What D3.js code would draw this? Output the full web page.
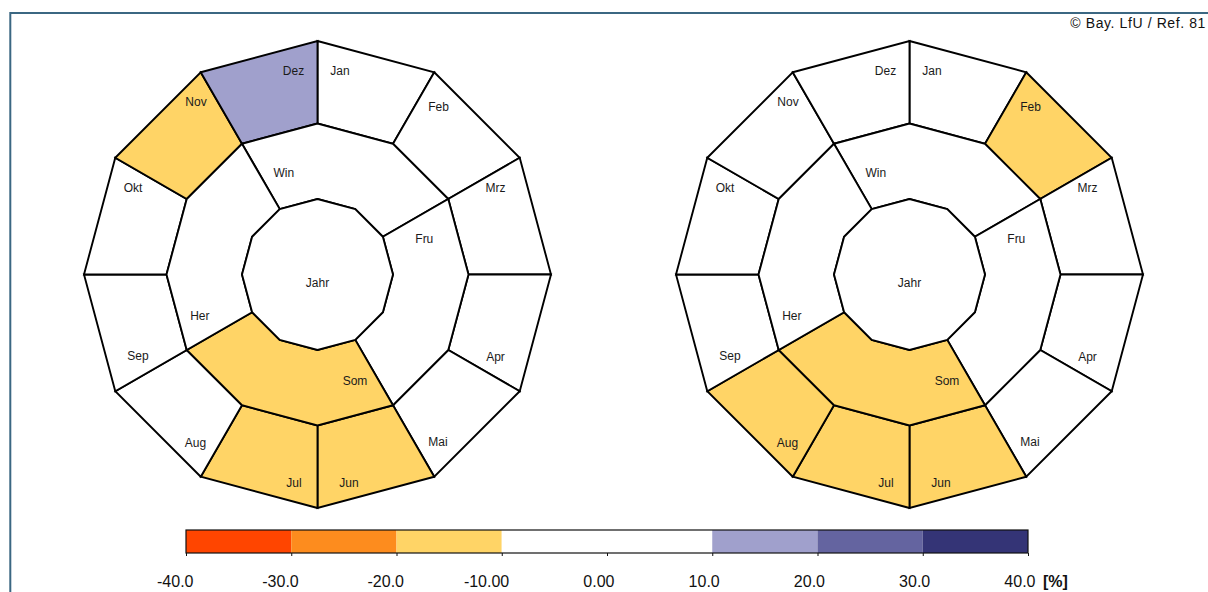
<!DOCTYPE html>
<html>
<head>
<meta charset="utf-8">
<script src="https://cdn.jsdelivr.net/npm/d3@7"></script>
<style>
  html, body { margin: 0; padding: 0; background: #fff; overflow: hidden; }
  svg { display: block; }
  .cell { stroke: #000; stroke-width: 1.9; stroke-linejoin: miter; }
  .lbl { font-family: "Liberation Sans", Arial, sans-serif; font-size: 12px; fill: #1a1a1a; text-anchor: middle; }
  .tick-lbl { font-family: "Liberation Sans", Arial, sans-serif; font-size: 16px; fill: #111; }
</style>
</head>
<body>
<svg id="chart" width="1208" height="592"></svg>
<script>
// Month, season and annual deviations [%] for the two compared periods
const months  = ["Jan", "Feb", "Mrz", "Apr", "Mai", "Jun", "Jul", "Aug", "Sep", "Okt", "Nov", "Dez"];
const seasons = ["Win", "Fru", "Som", "Her"];
const yearLabel = "Jahr";

const monthValuesA  = [3, -4, 2, -6, 5, -14, -12, -7, 4, -2, -15, 13];
const seasonValuesA = [4, 1, -12, -5];
const yearValueA    = -3;

const monthValuesB  = [-5, -13, 3, -2, -8, -15, -17, -14, -6, 2, 6, 8];
const seasonValuesB = [-4, -3, -14, -1];
const yearValueB    = -6;

// colour classes of the legend
const classBreaks  = [-40, -30, -20, -10, 10, 20, 30, 40];
const classColors  = ["#ff4500", "#fd8c1e", "#ffd466", "#ffffff", "#a0a0cc", "#6464a0", "#343476"];
const legendTicks  = [-40, -30, -20, -10, 0, 10, 20, 30, 40];
const legendLabels = ["-40.0", "-30.0", "-20.0", "-10.00", "0.00", "10.0", "20.0", "30.0", "40.0"];
const unitLabel    = "[%]";
const creditText   = "\u00A9 Bay. LfU / Ref. 81";

// first month of each season (Dez counted as month -1)
const seasonFirstMonth = [-1, 2, 5, 8];

const svg = d3.select("#chart");

// frame lines
svg.append("path")
  .attr("d", "M1208,13H10.3V592")
  .attr("fill", "none")
  .attr("stroke", "#3b6782")
  .attr("stroke-width", 2);

svg.append("text")
  .attr("x", 1206).attr("y", 28)
  .attr("text-anchor", "end")
  .attr("font-family", "Liberation Sans, Arial, sans-serif")
  .attr("font-size", 14)
  .attr("letter-spacing", "0.6px")
  .attr("fill", "#111")
  .text(creditText);

const color = d3.scaleThreshold()
  .domain(classBreaks.slice(1, -1))
  .range(classColors);

// angle in month units, clockwise from 12 o'clock
const angle = d3.scaleLinear().domain([0, 12]).range([0, 2 * Math.PI]);
// ring levels: year core, season ring, month ring
const radius = d3.scaleLinear().domain([0, 1, 2, 3]).range([0, 75.5, 151, 233.5]);
const chartX = d3.scalePoint().domain(["A", "B"]).range([317.5, 909.5]);
const centerY = 274.5;

const radial = d3.lineRadial()
  .angle(d => angle(d[0]))
  .radius(d => radius(d[1]))
  .curve(d3.curveLinearClosed);

function ringCell(m0, m1, level) {
  const pts = [];
  for (let m = m0; m <= m1; m++) pts.push([m, level + 1]);
  if (level > 0) for (let m = m1; m >= m0; m--) pts.push([m, level]);
  return radial(pts);
}

// text positions of the cell labels, relative to the wheel centre
const labelOffset = {
  Jan: [22.5, -203.5], Feb: [121, -167.5], Mrz: [178, -86.5], Apr: [178, 82],
  Mai: [120.5, 167.5], Jun: [31.5, 208.5], Jul: [-23.5, 208.5], Aug: [-122, 168],
  Sep: [-179.5, 81], Okt: [-184.5, -86.5], Nov: [-121.5, -172.5], Dez: [-24, -203.5],
  Win: [-33.7, -101.5], Fru: [106.8, -35.5], Som: [37.5, 106.2], Her: [-117.7, 41.5],
  Jahr: [0, 7.8]
};

function drawWheel(key, monthVals, seasonVals, yearVal) {
  const g = svg.append("g")
    .attr("transform", `translate(${chartX(key)},${centerY})`);

  const cells = [];
  months.forEach((m, i) => cells.push({ name: m, value: monthVals[i], d: ringCell(i, i + 1, 2) }));
  seasons.forEach((s, i) => cells.push({ name: s, value: seasonVals[i],
    d: ringCell(seasonFirstMonth[i], seasonFirstMonth[i] + 3, 1) }));
  cells.push({ name: yearLabel, value: yearVal, d: ringCell(0, 12, 0) });

  g.selectAll("path.cell").data(cells).join("path")
    .attr("class", "cell")
    .attr("d", d => d.d)
    .attr("fill", d => color(d.value));

  g.selectAll("text.lbl").data(cells).join("text")
    .attr("class", "lbl")
    .attr("x", d => labelOffset[d.name][0])
    .attr("y", d => labelOffset[d.name][1])
    .attr("dy", "0.35em")
    .text(d => d.name);
}

drawWheel("A", monthValuesA, seasonValuesA, yearValueA);
drawWheel("B", monthValuesB, seasonValuesB, yearValueB);

// colour legend
const lx = d3.scaleLinear().domain([-40, 40]).range([186, 1028]);
const barTop = 530, barH = 23;
const legend = svg.append("g");

legend.selectAll("rect.cls")
  .data(d3.pairs(classBreaks))
  .join("rect")
  .attr("class", "cls")
  .attr("x", d => lx(d[0]))
  .attr("y", barTop)
  .attr("width", d => lx(d[1]) - lx(d[0]))
  .attr("height", barH)
  .attr("fill", d => color((d[0] + d[1]) / 2));

legend.append("rect")
  .attr("x", lx(-40)).attr("y", barTop)
  .attr("width", lx(40) - lx(-40)).attr("height", barH)
  .attr("fill", "none").attr("stroke", "#111").attr("stroke-width", 1.2);

const axis = d3.axisBottom(lx)
  .tickValues(legendTicks)
  .tickSize(3)
  .tickFormat((d, i) => legendLabels[i]);

const ax = legend.append("g")
  .attr("transform", `translate(0,${barTop + barH})`)
  .call(axis);
ax.select(".domain").remove();
ax.selectAll(".tick line").attr("stroke", "#111");
ax.selectAll(".tick text")
  .attr("class", "tick-lbl")
  .attr("text-anchor", "end")
  .attr("x", 7)
  .attr("y", 34)
  .attr("dy", null)
  .attr("font-size", null)
  .attr("font-family", null);

legend.append("text")
  .attr("class", "tick-lbl")
  .attr("x", 1043).attr("y", barTop + barH + 34)
  .attr("font-weight", "bold")
  .text(unitLabel);
</script>
</body>
</html>
